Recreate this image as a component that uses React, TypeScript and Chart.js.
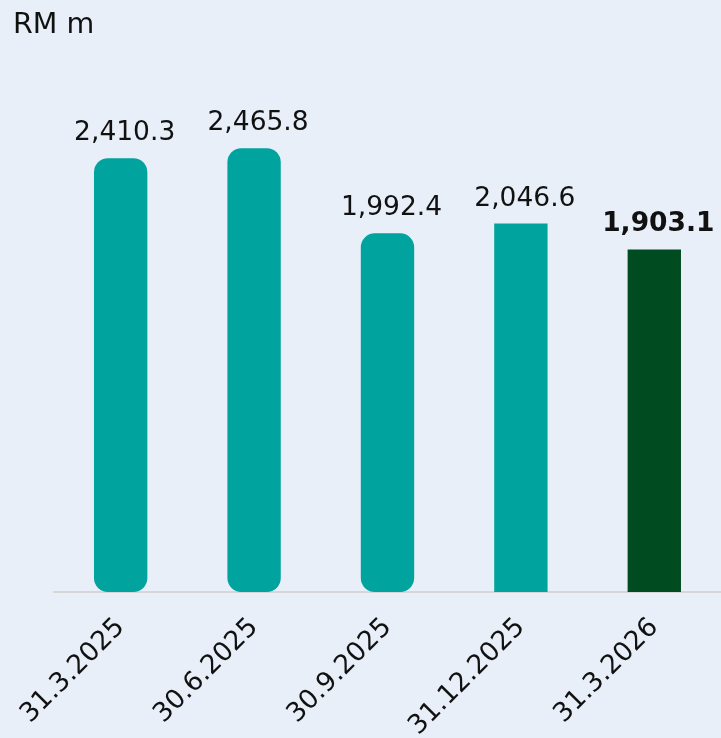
import React, { useEffect, useRef } from "react";
import { Chart, registerables } from "chart.js";

Chart.register(...registerables);

const categories = ["31.3.2025", "30.6.2025", "30.9.2025", "31.12.2025", "31.3.2026"];
const values = [2410.3, 2465.8, 1992.4, 2046.6, 1903.1];
const valueLabels = ["2,410.3", "2,465.8", "1,992.4", "2,046.6", "1,903.1"];
const barColors = ["#00A39D", "#00A39D", "#00A39D", "#00A39D", "#004B1F"];
const roundedBars = [true, true, true, false, false];
const boldLabels = [false, false, false, false, true];
const unitTitle = "RM m";

const FONT = "'DejaVu Sans', Verdana, sans-serif";

const labelPlugin = {
  id: "valueLabels",
  afterDatasetsDraw(chart: any) {
    const { ctx } = chart;
    const meta = chart.getDatasetMeta(0);
    ctx.save();
    ctx.fillStyle = "#111111";
    ctx.textAlign = "center";
    ctx.textBaseline = "alphabetic";
    meta.data.forEach((bar: any, i: number) => {
      ctx.font = `${boldLabels[i] ? "bold " : ""}26.5px ${FONT}`;
      ctx.fillText(valueLabels[i], bar.x + 4, bar.y - 18);
    });
    ctx.font = `28.5px ${FONT}`;
    ctx.textAlign = "left";
    ctx.fillText(unitTitle, 13, 33);
    ctx.restore();
  },
};

const bgPlugin = {
  id: "bg",
  beforeDraw(chart: any) {
    const { ctx, width, height } = chart;
    ctx.save();
    ctx.fillStyle = "#E8EFF9";
    ctx.fillRect(0, 0, width, height);
    ctx.restore();
  },
};

export default function App() {
  const ref = useRef<HTMLCanvasElement>(null);
  useEffect(() => {
    document.body.style.margin = "0";
    const chart = new Chart(ref.current as HTMLCanvasElement, {
      type: "bar",
      data: {
        labels: categories,
        datasets: [
          {
            data: values,
            backgroundColor: barColors,
            borderRadius: (c: any) => (roundedBars[c.dataIndex] ? 14 : 0),
            borderSkipped: false,
            barPercentage: 0.4,
            categoryPercentage: 1,
          },
        ],
      },
      options: {
        animation: false,
        responsive: false,
        layout: { padding: { left: 53, right: 0, top: 142, bottom: 0 } },
        plugins: { legend: { display: false }, tooltip: { enabled: false }, title: { display: false } },
        scales: {
          x: {
            grid: { display: false, drawTicks: false },
            border: { display: true, color: "#D6D6D6", width: 2 },
            ticks: {
              font: { family: FONT, size: 26.5 },
              color: "#111111",
              maxRotation: 45,
              minRotation: 45,
              padding: 20,
              autoSkip: false,
            },
            afterFit: (scale: any) => {
              scale.height = 146;
            },
          },
          y: { display: false, min: 0, max: 2500 },
        },
      },
      plugins: [bgPlugin, labelPlugin],
    });
    return () => chart.destroy();
  }, []);
  return (
    <div style={{ position: "absolute", left: 0, top: 0, width: 721, height: 738 }}>
      <canvas ref={ref} width={721} height={738} style={{ display: "block" }} />
    </div>
  );
}
